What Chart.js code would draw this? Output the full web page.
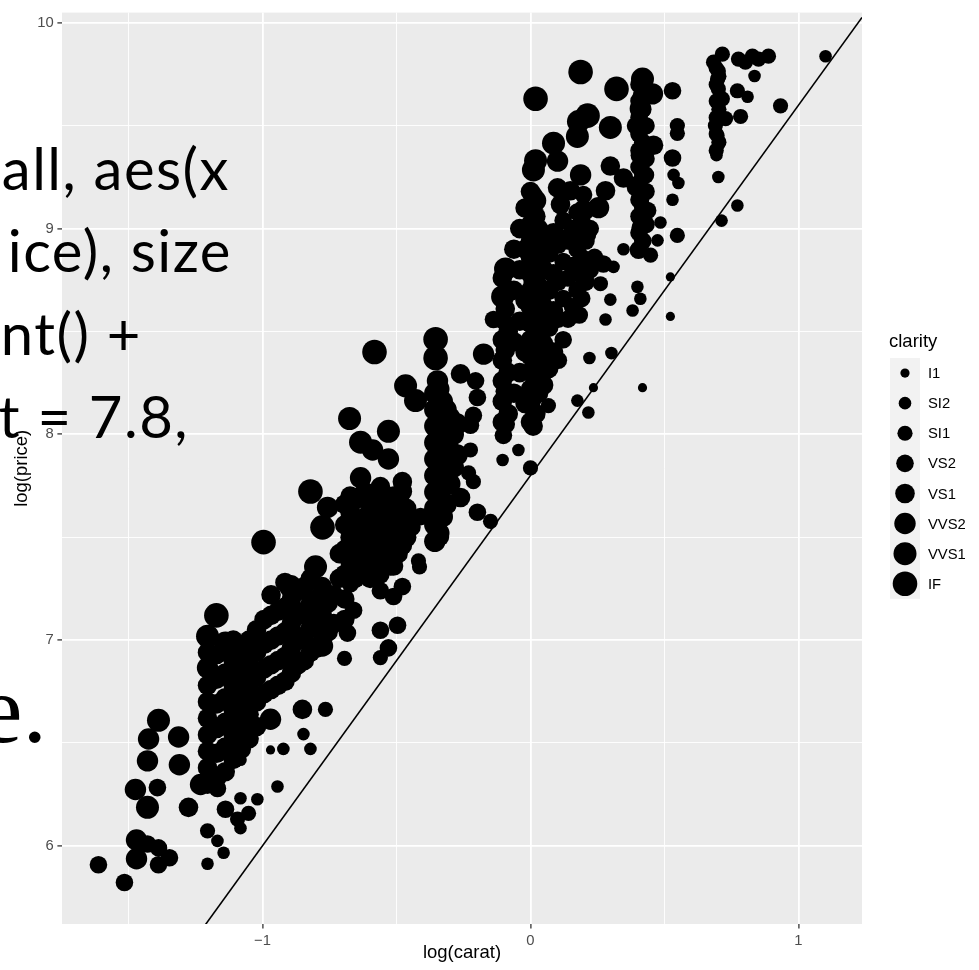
<!DOCTYPE html>
<html>
<head>
<meta charset="utf-8">
<script src="https://cdn.jsdelivr.net/npm/chart.js@4.4.1/dist/chart.umd.min.js"></script>
<style>
  html, body { margin: 0; padding: 0; background: #fff; }
  #wrap { position: relative; width: 979px; height: 970px; overflow: hidden; }
  #overlay { position: absolute; left: 0; top: 0; pointer-events: none; }
  .slide { font-family: Lato, "Open Sans", sans-serif; font-size: 58px; letter-spacing: 1.5px; fill: #000; }
  .slideSerif { font-family: "Liberation Serif", serif; font-size: 98px; fill: #000; }
</style>
</head>
<body>
<div id="wrap">
  <canvas id="chart" width="979" height="970"></canvas>
  <!-- slide text that sits on top of the plot -->
  <svg id="overlay" width="979" height="970">
    <text class="slide" x="230" y="190" text-anchor="end">all, aes(x</text>
    <text class="slide" x="232" y="272" text-anchor="end">ice), size</text>
    <text class="slide" x="142" y="355" text-anchor="end">nt() +</text>
    <text class="slide" x="189" y="438" text-anchor="end">t = 7.8,</text>
    <text class="slideSerif" x="47" y="742" text-anchor="end">e.</text>
  </svg>
</div>
<script>
// categories (legend order)
const clarity = ['I1', 'SI2', 'SI1', 'VS2', 'VS1', 'VVS2', 'VVS1', 'IF'];

// points [log(carat), log(price)], one list per clarity
const ptsI1 = [
  [-0.970, 6.466], [0.235, 8.227], [0.418, 8.227], [0.522, 8.765], [0.522, 8.573]
];

const ptsSI2 = [
  [-1.205, 5.913], [-1.145, 5.966], [-1.168, 6.024], [-1.082, 6.086], [-1.019, 6.226], [-1.082, 6.231], [-1.082, 6.418],
  [-0.922, 6.471], [-0.821, 6.471], [-0.847, 6.543], [-0.944, 6.288],
  [-0.045, 7.924], [-0.104, 7.875], [0.175, 8.164], [0.216, 8.106], [0.302, 8.395], [0.220, 8.371],
  [0.530, 9.140], [0.552, 9.222], [0.534, 9.261], [0.485, 9.030], [0.474, 8.943], [0.347, 8.900],
  [0.399, 8.717], [0.410, 8.659], [0.381, 8.602], [0.310, 8.814], [0.298, 8.655], [0.280, 8.558],
  [0.836, 9.742], [0.810, 9.641], [0.701, 9.453], [0.701, 9.405], [0.694, 9.357], [0.701, 9.251],
  [1.101, 9.838], [0.713, 9.039], [0.772, 9.112]
];

const ptsSI1 = [
  [-1.205, 6.073], [-1.093, 6.130], [-1.052, 6.158], [-0.765, 6.663], [-0.560, 6.915], [-0.694, 6.911], [-0.414, 7.356],
  [-0.224, 7.924], [-0.231, 7.813], [-0.213, 7.770], [-0.149, 7.577], [-0.418, 7.385], [0.067, 8.140], [0.000, 7.837],
  [0.548, 9.501], [0.548, 9.463], [0.548, 8.967], [0.448, 8.871], [0.261, 8.732],
  [0.716, 9.848], [0.683, 9.809], [0.776, 9.824], [0.828, 9.838], [0.888, 9.838], [0.851, 9.824], [0.802, 9.809],
  [0.772, 9.670], [0.784, 9.545], [0.728, 9.535], [0.690, 9.501], [0.701, 9.766], [0.698, 9.727], [0.701, 9.679],
  [0.716, 9.631], [0.698, 9.622], [0.933, 9.597],
  [0.693, 9.38], [0.693, 9.46], [0.693, 9.54], [0.693, 9.62], [0.693, 9.70], [0.693, 9.78],
  [0.703, 9.42], [0.703, 9.58], [0.703, 9.74]
];

const ptsVS2 = [
  [-1.429, 6.009], [-1.138, 6.178], [-0.205, 8.260], [-0.198, 8.179], [-0.213, 8.092], [-0.224, 8.044], [-0.198, 7.621],
  [-0.336, 7.501], [0.530, 9.670], [0.530, 9.343], [0.429, 9.261], [0.410, 9.136], [0.403, 8.895], [0.272, 8.828],
  [0.437, 9.088], [0.410, 9.006], [-0.101, 7.995], [-0.410, 7.600], [-1.612, 5.908], [-1.515, 5.822], [-1.388, 5.990],
  [-1.388, 5.908], [-1.347, 5.942], [-1.392, 6.283], [-1.168, 6.279],
  [-0.672, 7.274], [-0.660, 7.145], [-0.683, 7.034], [-0.560, 7.048], [-0.496, 7.072], [-0.530, 6.962],
  [-0.522, 7.356], [-0.478, 7.260], [-0.560, 7.240], [-0.511, 7.212], [-0.138, 8.558],
  [0.198, 9.165], [0.187, 9.020], [0.213, 8.972], [0.112, 8.958],
  [0.104, 8.36], [0.104, 8.56], [0.104, 8.74], [0.104, 8.92],
  [0.122, 8.46], [0.122, 8.66], [0.122, 8.84], [0.122, 9.04],
  [0.140, 8.56], [0.140, 8.76], [0.140, 8.94],
  [0.157, 8.62], [0.157, 8.82], [0.157, 9.00],
  [0.174, 8.70], [0.174, 8.90], [0.174, 9.08],
  [0.182, 8.58], [0.182, 8.78], [0.182, 8.98],
  [0.191, 8.66], [0.191, 8.86], [0.191, 9.04],
  [0.207, 8.74], [0.207, 8.94], [0.223, 8.80], [0.223, 9.00], [0.239, 8.86],
  [0.405, 8.90], [0.405, 8.98], [0.405, 9.06], [0.405, 9.14], [0.405, 9.22], [0.405, 9.30], [0.405, 9.38],
  [0.405, 9.46], [0.405, 9.54], [0.405, 9.62], [0.405, 9.70],
  [0.419, 8.94], [0.419, 9.10], [0.419, 9.26], [0.419, 9.42], [0.419, 9.58],
  [0.431, 9.02], [0.431, 9.18], [0.431, 9.34], [0.431, 9.50], [0.392, 9.20], [0.392, 9.50]
];

const ptsVS1 = [
  [-1.276, 6.187], [-0.851, 6.663], [-0.478, 7.770], [-0.560, 7.746], [-0.261, 8.294], [-0.261, 7.693], [0.298, 9.304],
  [0.347, 9.246], [0.280, 9.184], [0.112, 9.117], [0.000, 8.972], [0.418, 9.646], [0.459, 9.405], [0.410, 9.357],
  [-0.478, 7.722], [0.011, 9.020], [0.101, 9.198], [0.149, 9.184],
  // 0.3 - 0.48 carat block
  [-1.205, 6.30], [-1.205, 6.38], [-1.205, 6.46], [-1.205, 6.54], [-1.205, 6.62], [-1.205, 6.70], [-1.205, 6.78], [-1.205, 6.94],
  [-1.171, 6.33], [-1.171, 6.45], [-1.171, 6.57], [-1.171, 6.69], [-1.171, 6.81], [-1.171, 6.93],
  [-1.139, 6.36], [-1.139, 6.48], [-1.139, 6.60], [-1.139, 6.72], [-1.139, 6.84],
  [-1.109, 6.42], [-1.109, 6.54], [-1.109, 6.66], [-1.109, 6.78], [-1.109, 6.90], [-1.109, 7.00],
  [-1.079, 6.47], [-1.079, 6.59], [-1.079, 6.71], [-1.079, 6.83], [-1.079, 6.95],
  [-1.050, 6.52], [-1.050, 6.64], [-1.050, 6.76], [-1.050, 6.88], [-1.050, 7.00],
  [-1.022, 6.58], [-1.022, 6.70], [-1.022, 6.82], [-1.022, 6.94], [-1.022, 7.05],
  [-0.994, 6.74], [-0.994, 6.86], [-0.994, 6.98], [-0.994, 7.10],
  [-0.968, 6.76], [-0.968, 6.88], [-0.968, 7.00], [-0.968, 7.12], [-0.968, 7.22],
  [-0.942, 6.78], [-0.942, 6.90], [-0.942, 7.02], [-0.942, 7.14],
  [-0.916, 6.80], [-0.916, 6.92], [-0.916, 7.04], [-0.916, 7.16], [-0.916, 7.28],
  [-0.892, 6.84], [-0.892, 6.96], [-0.892, 7.08], [-0.892, 7.20],
  [-0.868, 6.88], [-0.868, 7.00], [-0.868, 7.12], [-0.868, 7.24],
  [-0.844, 6.90], [-0.844, 7.02], [-0.844, 7.14], [-0.844, 7.26],
  [-0.821, 6.94], [-0.821, 7.06], [-0.821, 7.18], [-0.821, 7.30],
  [-0.799, 6.96], [-0.799, 7.08], [-0.799, 7.20],
  [-0.777, 7.00], [-0.777, 7.12], [-0.777, 7.26],
  [-0.755, 7.04], [-0.755, 7.18], [-0.734, 7.08], [-0.734, 7.22],
  // 0.5 - 0.64 carat block
  [-0.713, 7.30], [-0.713, 7.42],
  [-0.693, 7.10], [-0.693, 7.20], [-0.693, 7.32], [-0.693, 7.44], [-0.693, 7.56], [-0.693, 7.66],
  [-0.673, 7.38], [-0.673, 7.50], [-0.673, 7.62], [-0.673, 7.70],
  [-0.654, 7.30], [-0.654, 7.42], [-0.654, 7.55], [-0.654, 7.68],
  [-0.635, 7.34], [-0.635, 7.46], [-0.635, 7.58], [-0.635, 7.70],
  [-0.616, 7.36], [-0.616, 7.48], [-0.616, 7.60], [-0.616, 7.72],
  [-0.598, 7.30], [-0.598, 7.42], [-0.598, 7.54], [-0.598, 7.66],
  [-0.580, 7.36], [-0.580, 7.48], [-0.580, 7.60], [-0.580, 7.70],
  [-0.562, 7.32], [-0.562, 7.44], [-0.562, 7.56], [-0.562, 7.68],
  [-0.545, 7.38], [-0.545, 7.50], [-0.545, 7.62],
  [-0.528, 7.42], [-0.528, 7.54], [-0.528, 7.66],
  [-0.511, 7.36], [-0.511, 7.48], [-0.511, 7.60], [-0.511, 7.70],
  [-0.494, 7.42], [-0.494, 7.56], [-0.494, 7.68],
  [-0.478, 7.46], [-0.478, 7.60], [-0.462, 7.50], [-0.462, 7.64], [-0.446, 7.55],
  // 0.9 - 1.1 carat block
  [-0.105, 8.06], [-0.105, 8.16], [-0.105, 8.26], [-0.105, 8.36], [-0.105, 8.46], [-0.105, 8.56], [-0.105, 8.76],
  [-0.094, 8.05], [-0.094, 8.21], [-0.094, 8.41], [-0.094, 8.61],
  [-0.083, 8.10], [-0.083, 8.30], [-0.083, 8.50], [-0.083, 8.70],
  [-0.062, 8.20], [-0.062, 8.45], [-0.062, 8.70], [-0.062, 8.90],
  [-0.040, 8.30], [-0.040, 8.55], [-0.040, 8.80], [-0.040, 9.00],
  [-0.020, 8.15], [-0.020, 8.40], [-0.020, 8.65], [-0.020, 8.90], [-0.020, 9.10],
  [0.000, 8.06], [0.000, 8.14], [0.000, 8.22], [0.000, 8.30], [0.000, 8.38], [0.000, 8.46], [0.000, 8.54], [0.000, 8.62],
  [0.000, 8.70], [0.000, 8.78], [0.000, 8.86], [0.000, 8.94], [0.000, 9.02], [0.000, 9.10], [0.000, 9.18],
  [0.010, 8.04], [0.010, 8.18], [0.010, 8.32], [0.010, 8.46], [0.010, 8.60], [0.010, 8.74], [0.010, 8.88], [0.010, 9.02], [0.010, 9.16],
  [0.020, 8.10], [0.020, 8.26], [0.020, 8.42], [0.020, 8.58], [0.020, 8.74], [0.020, 8.90], [0.020, 9.06],
  [0.030, 8.20], [0.030, 8.38], [0.030, 8.56], [0.030, 8.72], [0.030, 8.88], [0.030, 9.00],
  [0.039, 8.30], [0.039, 8.50], [0.039, 8.66], [0.039, 8.82],
  [0.049, 8.24], [0.049, 8.44], [0.049, 8.62], [0.049, 8.80], [0.049, 8.96],
  [0.068, 8.32], [0.068, 8.52], [0.068, 8.70], [0.068, 8.88],
  [0.086, 8.40], [0.086, 8.60], [0.086, 8.78], [0.086, 8.98]
];

const ptsVVS2 = [
  [-1.470, 6.028], [-1.474, 6.274], [-1.425, 6.519], [-1.313, 6.529], [-1.429, 6.413], [-1.310, 6.394], [-0.970, 6.615],
  [-1.470, 5.937], [-1.231, 6.298], [-1.205, 6.865], [-0.175, 8.390], [-0.347, 8.260], [-0.776, 6.971], [-0.589, 7.924],
  [-0.530, 7.880], [-0.634, 7.789], [0.101, 9.328], [0.019, 9.136], [0.187, 9.261], [0.198, 9.088], [0.254, 9.102],
  [0.455, 9.655], [0.410, 9.583], [-0.757, 7.645],
  // 0.7 carat column
  [-0.357, 7.48], [-0.357, 7.56], [-0.357, 7.64], [-0.357, 7.72], [-0.357, 7.80], [-0.357, 7.88], [-0.357, 7.96],
  [-0.357, 8.04], [-0.357, 8.12], [-0.357, 8.20],
  [-0.342, 7.52], [-0.342, 7.66], [-0.342, 7.80], [-0.342, 7.94], [-0.342, 8.08], [-0.342, 8.22],
  [-0.329, 7.60], [-0.329, 7.74], [-0.329, 7.88], [-0.329, 8.02], [-0.329, 8.16],
  [-0.315, 7.66], [-0.315, 7.82], [-0.315, 7.98], [-0.315, 8.12],
  [-0.301, 7.76], [-0.301, 7.92], [-0.301, 8.08], [-0.288, 7.84], [-0.288, 8.00], [-0.274, 7.90], [-0.274, 8.05]
];

const ptsVVS1 = [
  [-1.138, 6.986], [0.298, 9.492], [0.179, 9.520], [0.086, 9.415], [0.011, 9.285], [0.019, 9.330], [-0.466, 8.236],
  [-0.429, 8.164], [-0.093, 8.804], [-0.104, 8.669], [0.418, 9.727], [0.175, 9.448], [-1.429, 6.187], [-1.388, 6.610],
  [-0.675, 8.077], [-0.530, 8.015], [-0.634, 7.962], [-0.802, 7.356], [-0.895, 7.260], [-1.205, 7.019]
];

const ptsIF = [
  [-0.996, 7.476], [-1.172, 7.120], [-0.582, 8.400], [-0.354, 8.462], [0.019, 9.631], [0.187, 9.761], [0.321, 9.679],
  [-0.821, 7.722], [-0.776, 7.548], [-0.354, 8.371], [0.213, 9.549]
];

// reference line y = intercept + slope * x
const ablineIntercept = 7.8;
const ablineSlope = 1.8;

// axis ranges and breaks
const xLim = [-1.748, 1.237];
const yLim = [5.62, 10.05];
const xBreaks = [-1.5, -1, -0.5, 0, 0.5, 1];
const xLabels = ['', '\u22121', '', '0', '', '1'];
const yBreaks = [6, 6.5, 7, 7.5, 8, 8.5, 9, 9.5, 10];
const yLabels = ['6', '', '7', '', '8', '', '9', '', '10'];

// ---- styles ----
const pointRadius = [4.6, 6.3, 7.6, 8.8, 9.8, 10.7, 11.5, 12.3];
const FONT = '"Liberation Sans", Arial, sans-serif';

const byClarity = [ptsI1, ptsSI2, ptsSI1, ptsVS2, ptsVS1, ptsVVS2, ptsVVS1, ptsIF];

const datasets = clarity.map((c, i) => ({
    type: 'scatter',
    label: c,
    data: byClarity[i].map(p => ({ x: p[0], y: p[1] })),
    pointRadius: pointRadius[i],
    pointHoverRadius: pointRadius[i],
    backgroundColor: '#000000',
    borderWidth: 0,
    order: 1
}));

datasets.push({
    type: 'line',
    label: 'abline',
    data: xLim.map(x => ({ x: x, y: ablineIntercept + ablineSlope * x })),
    borderColor: '#000000',
    borderWidth: 1.6,
    pointRadius: 0,
    fill: false,
    clip: 0,
    order: 0
});

// grey panel + white page
const panelBg = {
    id: 'panelBg',
    beforeDraw(chart) {
        const { ctx, chartArea: a } = chart;
        ctx.save();
        ctx.fillStyle = '#FFFFFF';
        ctx.fillRect(0, 0, chart.width, chart.height);
        ctx.fillStyle = '#EBEBEB';
        ctx.fillRect(a.left, a.top, a.right - a.left, a.bottom - a.top);
        ctx.restore();
    }
};

// ggplot style size legend on the right
const sizeLegend = {
    id: 'sizeLegend',
    afterDraw(chart) {
        const ctx = chart.ctx;
        const keyX = 890, keyW = 30, keyTop = 358, keyH = 30.1;
        ctx.save();
        ctx.fillStyle = '#000';
        ctx.font = '18.5px ' + FONT;
        ctx.textBaseline = 'alphabetic';
        ctx.textAlign = 'left';
        ctx.fillText('clarity', 889, 347);

        ctx.fillStyle = '#F2F2F2';
        ctx.fillRect(keyX, keyTop, keyW, keyH * clarity.length);

        ctx.font = '14.8px ' + FONT;
        ctx.textBaseline = 'middle';
        clarity.forEach((c, i) => {
            const cy = keyTop + keyH * (i + 0.5);
            ctx.fillStyle = '#000';
            ctx.beginPath();
            ctx.arc(keyX + keyW / 2, cy, pointRadius[i], 0, Math.PI * 2);
            ctx.fill();
            ctx.fillText(c, 928, cy + 1);
        });
        ctx.restore();
    }
};

function gridWidth(breaks, labels) {
    return ctx => (ctx.tick && labels[breaks.indexOf(ctx.tick.value)] !== '') ? 1.8 : 0.9;
}
function tickColor(breaks, labels) {
    return ctx => (ctx.tick && labels[breaks.indexOf(ctx.tick.value)] !== '') ? '#333333' : 'rgba(0,0,0,0)';
}

new Chart(document.getElementById('chart').getContext('2d'), {
    type: 'scatter',
    data: { datasets: datasets },
    plugins: [panelBg, sizeLegend],
    options: {
        responsive: false,
        animation: false,
        events: [],
        layout: { padding: { left: 0, right: 117, top: 5, bottom: 0 } },
        plugins: {
            legend: { display: false },
            tooltip: { enabled: false }
        },
        scales: {
            x: {
                type: 'linear',
                min: xLim[0],
                max: xLim[1],
                afterBuildTicks: s => { s.ticks = xBreaks.map(v => ({ value: v })); },
                afterFit: s => { s.height = 46; },
                border: { display: false },
                grid: {
                    color: '#FFFFFF',
                    lineWidth: gridWidth(xBreaks, xLabels),
                    tickColor: tickColor(xBreaks, xLabels),
                    tickWidth: 1.3,
                    tickLength: 4.6
                },
                ticks: {
                    autoSkip: false,
                    maxRotation: 0,
                    padding: 3.7,
                    color: '#4D4D4D',
                    font: { family: FONT, size: 14.8 },
                    callback: v => xLabels[xBreaks.indexOf(v)] || ''
                },
                title: {
                    display: true,
                    text: 'log(carat)',
                    color: '#000',
                    font: { family: FONT, size: 18.5 },
                    padding: { top: 0, bottom: 6 }
                }
            },
            y: {
                type: 'linear',
                min: yLim[0],
                max: yLim[1],
                afterBuildTicks: s => { s.ticks = yBreaks.map(v => ({ value: v })); },
                afterFit: s => { s.width = 62; },
                border: { display: false },
                grid: {
                    color: '#FFFFFF',
                    lineWidth: gridWidth(yBreaks, yLabels),
                    tickColor: tickColor(yBreaks, yLabels),
                    tickWidth: 1.3,
                    tickLength: 4.6
                },
                ticks: {
                    autoSkip: false,
                    padding: 3.7,
                    color: '#4D4D4D',
                    font: { family: FONT, size: 14.8 },
                    callback: v => yLabels[yBreaks.indexOf(v)] || ''
                },
                title: {
                    display: true,
                    text: 'log(price)',
                    color: '#000',
                    font: { family: FONT, size: 18.5 },
                    padding: { top: 11, bottom: 0 }
                }
            }
        }
    }
});
</script>
</body>
</html>
